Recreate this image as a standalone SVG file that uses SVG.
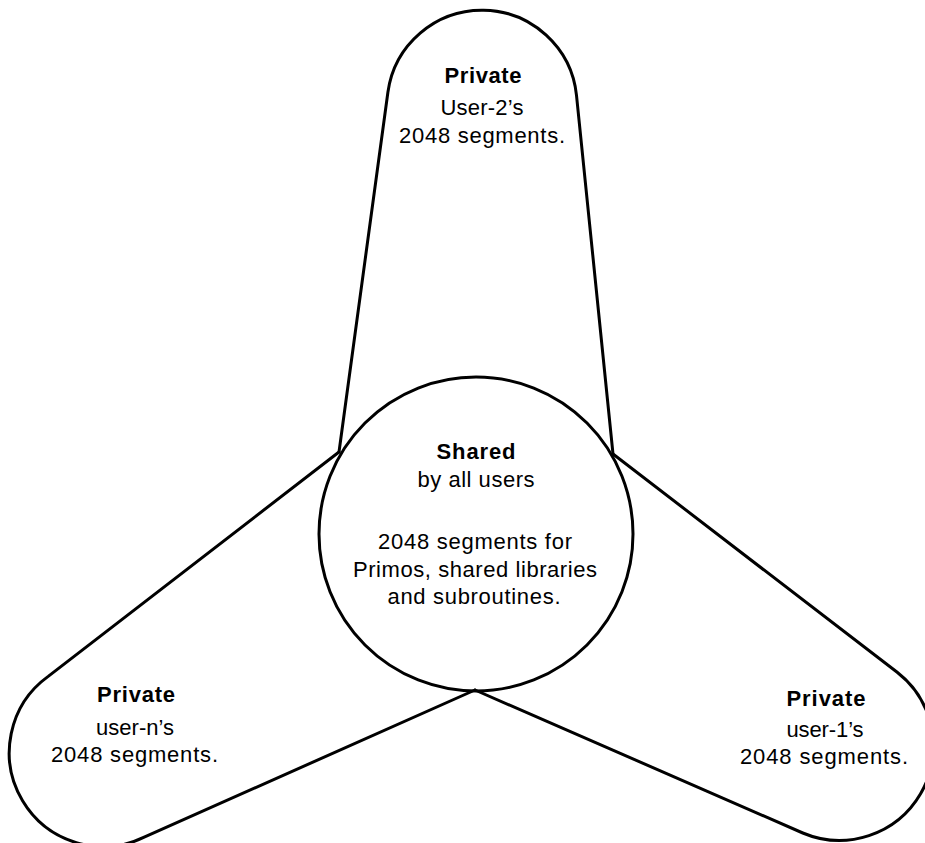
<svg xmlns="http://www.w3.org/2000/svg" width="925" height="843" viewBox="0 0 925 843">
  <style>
    .outline { fill: none; stroke: #000; stroke-width: 3; stroke-linejoin: round; stroke-linecap: round; }
    text { font-family: "Liberation Sans", Arial, Helvetica, sans-serif; font-size: 22px; fill: #000; text-anchor: middle; }
    .title { font-weight: bold; }
  </style>
  <rect width="925" height="843" fill="#fff"/>

  <!-- lobes: each is two tangent lines joined by a rounded cap -->
  <g id="connectors">
    <path id="lobe-top" class="outline" d="M339,452 L387.9,92.2 A95,95 0 0 1 576.5,95.3 L613,454"/>
    <path id="lobe-left" class="outline" d="M339,452 L48.2,676.4 A94,94 0 0 0 144.2,837.2 L475,690"/>
    <path id="lobe-right" class="outline" d="M613,454 L897.2,672.3 A94,94 0 0 1 802.8,833 L475,690"/>
  </g>

  <g id="shared">
    <circle class="outline" cx="476" cy="534" r="157"/>
    <text class="title" x="476" y="459" textLength="79" lengthAdjust="spacing">Shared</text>
    <text x="476" y="487" textLength="117" lengthAdjust="spacing">by all users</text>
    <text x="475" y="549" textLength="194" lengthAdjust="spacing">2048 segments for</text>
    <text x="475" y="577" textLength="244" lengthAdjust="spacing">Primos, shared libraries</text>
    <text x="474" y="604" textLength="173" lengthAdjust="spacing">and subroutines.</text>
  </g>

  <g id="private-user-2">
    <text class="title" x="483" y="83" textLength="77" lengthAdjust="spacing">Private</text>
    <text x="482" y="115" textLength="83" lengthAdjust="spacing">User-2’s</text>
    <text x="482" y="143" textLength="166" lengthAdjust="spacing">2048 segments.</text>
  </g>

  <g id="private-user-n">
    <text class="title" x="136" y="702" textLength="78" lengthAdjust="spacing">Private</text>
    <text x="135" y="735" textLength="78" lengthAdjust="spacing">user-n’s</text>
    <text x="134.5" y="762" textLength="167" lengthAdjust="spacing">2048 segments.</text>
  </g>

  <g id="private-user-1">
    <text class="title" x="826" y="706" textLength="79" lengthAdjust="spacing">Private</text>
    <text x="825" y="737" textLength="77" lengthAdjust="spacing">user-1’s</text>
    <text x="824" y="764" textLength="168" lengthAdjust="spacing">2048 segments.</text>
  </g>
</svg>
